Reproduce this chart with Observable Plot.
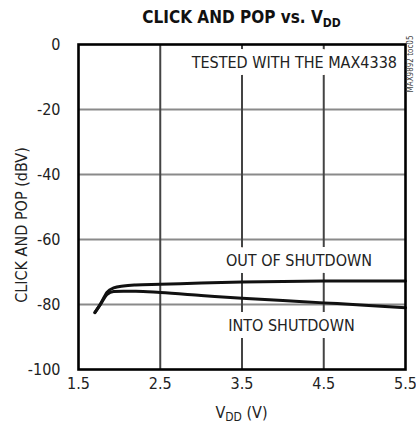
<!DOCTYPE html>
<html>
<head>
<meta charset="utf-8">
<script src="https://cdn.jsdelivr.net/npm/d3@7"></script>
<script src="https://cdn.jsdelivr.net/npm/@observablehq/plot@0.6"></script>
<style>
  html, body { margin: 0; padding: 0; background: white; }
  body { width: 416px; height: 433px; overflow: hidden; font-family: "DejaVu Sans Condensed", sans-serif; }
  #title { height: 34px; line-height: 34px; box-sizing: border-box; padding-left: 78px; padding-right: 11px; text-align: center; font-weight: bold; font-size: 17px; color: #111; white-space: nowrap; }
  #title .sub { font-size: 12px; position: relative; top: 4px; }
  svg { display: block; }
</style>
</head>
<body>
<div id="title">CLICK AND POP vs. V<span class="sub">DD</span></div>
<div id="chart"></div>
<script>
// Data
const vdd = [1.70, 1.77, 1.85, 1.93, 2.05, 2.2, 2.5, 3.0, 3.5, 4.0, 4.5, 5.0, 5.5];
const outOfShutdown = [-82.5, -79.8, -76.2, -74.9, -74.3, -74.0, -73.8, -73.4, -73.1, -72.9, -72.8, -72.8, -72.8];
const intoShutdown = [-82.5, -79.9, -76.9, -76.0, -75.9, -75.9, -76.3, -77.2, -78.1, -78.8, -79.5, -80.2, -81.0];

const xTicks = [1.5, 2.5, 3.5, 4.5, 5.5];
const yTicks = [0, -20, -40, -60, -80, -100];
const xGrid = [2.5, 3.5, 4.5];
const yGrid = [-20, -40, -60, -80];

const annotations = [
  {x: 4.14, y: -5.5, text: "TESTED WITH THE MAX4338"},
  {x: 4.197, y: -66.5, text: "OUT OF SHUTDOWN"},
  {x: 4.105, y: -86.5, text: "INTO SHUTDOWN"}
];

const outData = vdd.map((v, i) => ({x: v, y: outOfShutdown[i]}));
const intoData = vdd.map((v, i) => ({x: v, y: intoShutdown[i]}));

const plot = Plot.plot({
  width: 416,
  height: 399,
  marginTop: 10,
  marginBottom: 64,
  marginLeft: 78,
  marginRight: 11,
  style: {fontFamily: "DejaVu Sans Condensed, sans-serif", fontSize: "16px"},
  x: {domain: [1.5, 5.5]},
  y: {domain: [-100, 0]},
  marks: [
    Plot.ruleY(yGrid, {stroke: "#8a8a8a", strokeWidth: 2}),
    Plot.ruleX(xGrid, {stroke: "#444444", strokeWidth: 2}),
    Plot.text(annotations, {x: "x", y: "y", text: "text", fontSize: 16, fill: "#222", stroke: "white", strokeWidth: 14, strokeLinejoin: "round"}),
    Plot.line(outData, {x: "x", y: "y", stroke: "#111", strokeWidth: 3, curve: "monotone-x"}),
    Plot.line(intoData, {x: "x", y: "y", stroke: "#111", strokeWidth: 3, curve: "monotone-x"}),
    Plot.frame({stroke: "#000", strokeWidth: 2.6}),
    Plot.axisX({ticks: xTicks, tickSize: 0, tickPadding: 8, tickFormat: d => d.toFixed(1), label: null, fontSize: 16, fill: "#222"}),
    Plot.axisY({ticks: yTicks, tickSize: 0, tickPadding: 18, tickFormat: d => String(d), label: null, fontSize: 16, fill: "#222"})
  ]
});

document.getElementById("chart").appendChild(plot);

const svg = d3.select(plot);
// Y axis label
svg.append("text")
  .attr("transform", "translate(21,191) rotate(-90)")
  .attr("text-anchor", "middle")
  .attr("dy", "0.35em")
  .attr("font-size", 16)
  .attr("fill", "#222")
  .text("CLICK AND POP (dBV)");
// X axis label with subscript
const xl = svg.append("text")
  .attr("x", 241.5)
  .attr("y", 378)
  .attr("text-anchor", "middle")
  .attr("dy", "0.35em")
  .attr("font-size", 16)
  .attr("fill", "#222");
xl.append("tspan").text("V");
xl.append("tspan").attr("font-size", 12).attr("dy", 3).text("DD");
xl.append("tspan").attr("dy", -3).text(" (V)");
// Figure id
svg.append("text")
  .attr("transform", "translate(410,30) rotate(-90)")
  .attr("text-anchor", "middle")
  .attr("dy", "0.35em")
  .attr("font-size", 8)
  .attr("fill", "#444")
  .text("MAX9892 toc05");
</script>
</body>
</html>
